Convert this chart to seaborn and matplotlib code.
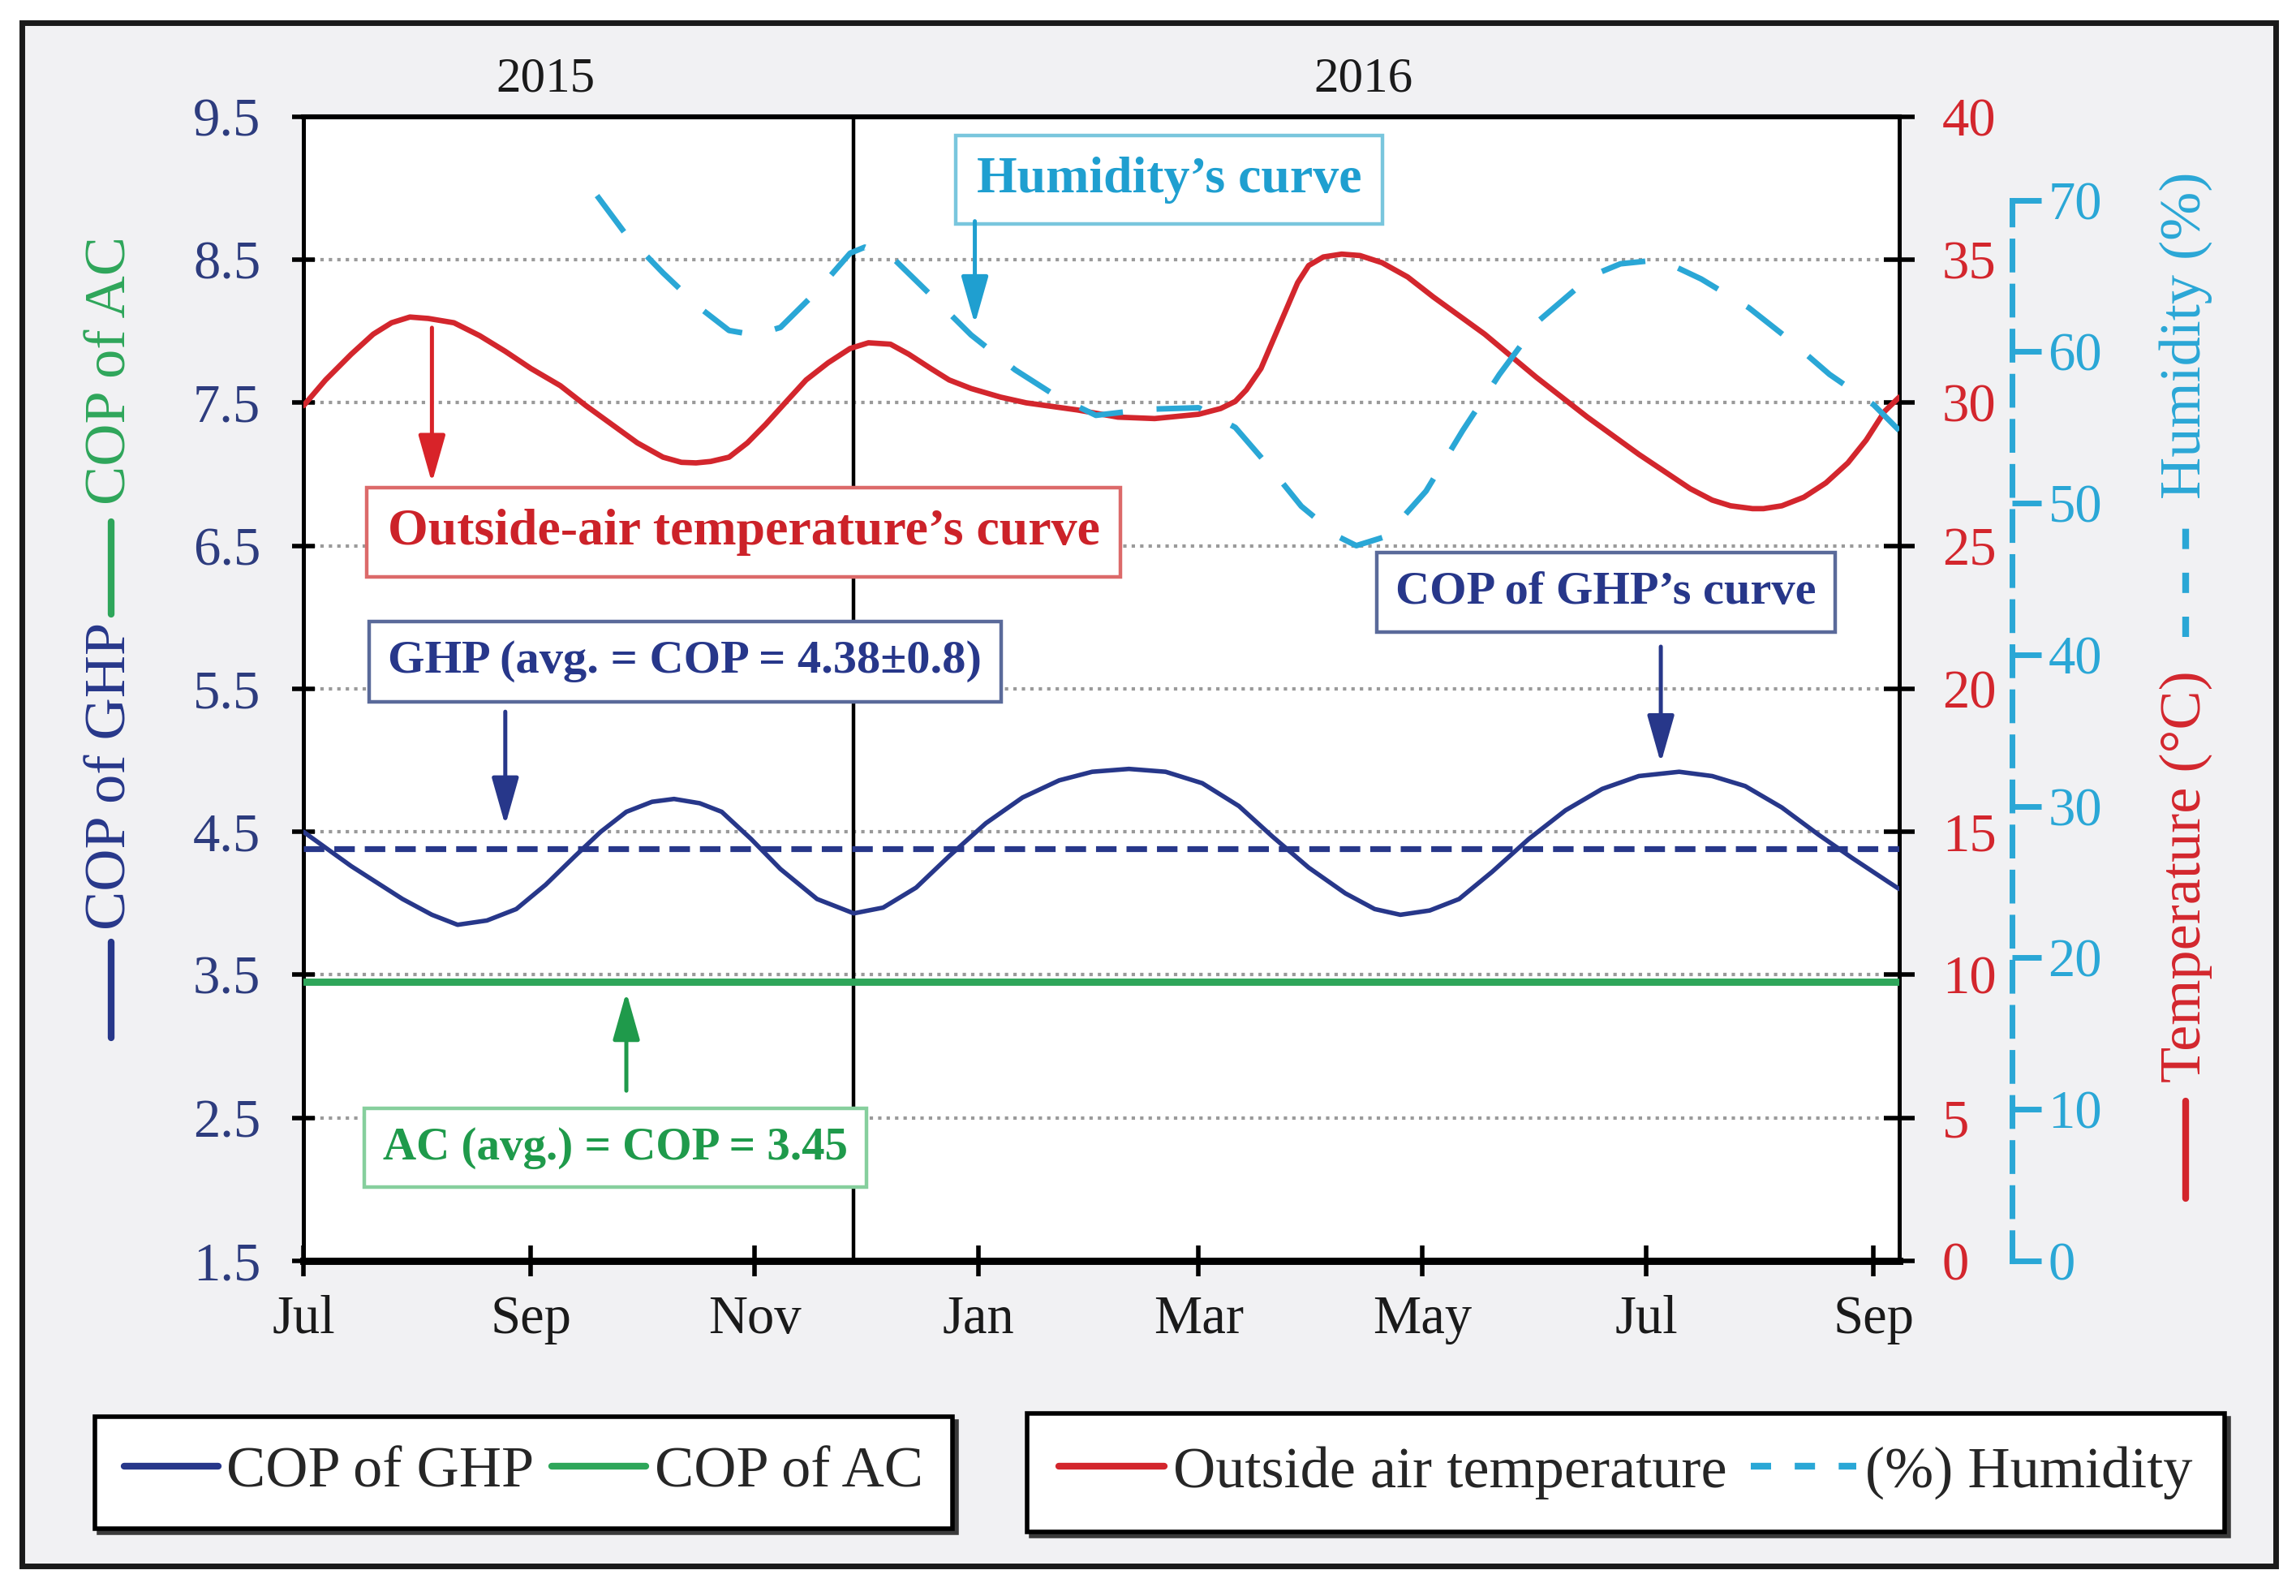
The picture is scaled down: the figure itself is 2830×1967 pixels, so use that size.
import numpy as np
import pandas as pd
import matplotlib
matplotlib.use("Agg")
import matplotlib.pyplot as plt
import matplotlib.dates as mdates
import matplotlib.transforms as mtransforms
from matplotlib.lines import Line2D
from matplotlib.patches import Rectangle
import seaborn as sns

# ---------------- data ----------------
temp_dates = ["2015-07-01", "2015-07-07", "2015-07-14", "2015-07-20", "2015-07-25",
              "2015-07-30", "2015-08-04", "2015-08-11", "2015-08-18", "2015-08-25",
              "2015-09-01", "2015-09-09", "2015-09-16", "2015-09-23", "2015-09-30",
              "2015-10-07", "2015-10-12", "2015-10-16", "2015-10-20", "2015-10-25",
              "2015-10-30", "2015-11-04", "2015-11-10", "2015-11-15", "2015-11-21",
              "2015-11-27", "2015-12-02", "2015-12-08", "2015-12-13", "2015-12-19",
              "2015-12-24", "2015-12-30", "2016-01-07", "2016-01-14", "2016-01-28",
              "2016-02-08", "2016-02-18", "2016-03-01", "2016-03-07", "2016-03-11",
              "2016-03-14", "2016-03-18", "2016-03-21", "2016-03-24", "2016-03-28",
              "2016-03-31", "2016-04-04", "2016-04-09", "2016-04-14", "2016-04-20",
              "2016-04-27", "2016-05-04", "2016-05-11", "2016-05-18", "2016-05-25",
              "2016-06-01", "2016-06-08", "2016-06-15", "2016-06-22", "2016-06-29",
              "2016-07-06", "2016-07-13", "2016-07-19", "2016-07-24", "2016-07-30",
              "2016-08-02", "2016-08-07", "2016-08-13", "2016-08-19", "2016-08-25",
              "2016-08-30", "2016-09-04", "2016-09-08"]
temp_values = [29.9, 30.8, 31.7, 32.4, 32.8,
               33.0, 32.95, 32.8, 32.35, 31.8,
               31.2, 30.6, 29.9, 29.25, 28.6,
               28.1, 27.92, 27.9, 27.95, 28.1,
               28.6, 29.25, 30.1, 30.8, 31.4,
               31.9, 32.1, 32.05, 31.7, 31.2,
               30.8, 30.5, 30.2, 30.0, 29.75,
               29.5, 29.45, 29.6, 29.8, 30.05,
               30.45, 31.2, 32.1, 33.0, 34.2,
               34.8, 35.1, 35.2, 35.15, 34.9,
               34.4, 33.7, 33.05, 32.4, 31.65,
               30.9, 30.2, 29.5, 28.85, 28.2,
               27.6, 27.0, 26.6, 26.4, 26.3,
               26.3, 26.4, 26.7, 27.2, 27.9,
               28.7, 29.7, 30.2]

hum_dates = ["2015-09-19", "2015-09-27", "2015-10-07", "2015-10-17", "2015-10-25",
             "2015-11-01", "2015-11-08", "2015-11-18", "2015-11-27", "2015-12-01",
             "2015-12-09", "2015-12-20", "2015-12-30", "2016-01-11", "2016-01-22",
             "2016-02-02", "2016-02-16", "2016-03-01", "2016-03-11", "2016-03-21",
             "2016-03-29", "2016-04-08", "2016-04-13", "2016-04-21", "2016-05-02",
             "2016-05-12", "2016-05-22", "2016-06-02", "2016-06-16", "2016-06-24",
             "2016-07-02", "2016-07-09", "2016-07-16", "2016-07-29", "2016-08-09",
             "2016-08-20", "2016-09-01", "2016-09-08"]
hum_values = [70.3, 67.7, 65.2, 62.9, 61.4,
              61.1, 61.6, 64.0, 66.5, 66.9,
              66.1, 63.5, 61.1, 58.8, 57.1,
              55.8, 56.2, 56.3, 55.0, 52.2,
              49.8, 47.8, 47.2, 47.8, 50.8,
              54.8, 58.5, 62.1, 65.0, 65.8,
              66.0, 65.6, 64.8, 62.9, 60.8,
              58.5, 56.5, 54.8]

ghp_dates = ["2015-07-01", "2015-07-14", "2015-07-28", "2015-08-05", "2015-08-12",
             "2015-08-20", "2015-08-28", "2015-09-05", "2015-09-13", "2015-09-20",
             "2015-09-27", "2015-10-04", "2015-10-10", "2015-10-17", "2015-10-23",
             "2015-10-31", "2015-11-08", "2015-11-18", "2015-11-28", "2015-12-06",
             "2015-12-15", "2015-12-24", "2016-01-03", "2016-01-13", "2016-01-23",
             "2016-02-01", "2016-02-11", "2016-02-21", "2016-03-02", "2016-03-12",
             "2016-03-21", "2016-03-31", "2016-04-10", "2016-04-18", "2016-04-25",
             "2016-05-03", "2016-05-11", "2016-05-20", "2016-05-30", "2016-06-09",
             "2016-06-19", "2016-06-29", "2016-07-10", "2016-07-19", "2016-07-28",
             "2016-08-07", "2016-08-17", "2016-08-26", "2016-09-05", "2016-09-08"]
ghp_values = [4.50, 4.26, 4.03, 3.92, 3.85,
              3.88, 3.96, 4.13, 4.33, 4.50,
              4.64, 4.71, 4.73, 4.70, 4.64,
              4.45, 4.24, 4.03, 3.93, 3.97,
              4.11, 4.33, 4.56, 4.74, 4.86,
              4.92, 4.94, 4.92, 4.84, 4.68,
              4.47, 4.25, 4.07, 3.96, 3.92,
              3.95, 4.03, 4.22, 4.45, 4.65,
              4.80, 4.89, 4.92, 4.89, 4.82,
              4.67, 4.48, 4.32, 4.15, 4.10]

ghp_avg = 4.38
ac_avg = 3.45
year_split_date = "2015-11-28"
year_labels = ["2015", "2016"]
year_label_dates = ["2015-09-05", "2016-04-15"]

month_tick_dates = ["2015-07-01", "2015-09-01", "2015-11-01", "2016-01-01",
                    "2016-03-01", "2016-05-01", "2016-07-01", "2016-09-01"]
month_labels = ["Jul", "Sep", "Nov", "Jan", "Mar", "May", "Jul", "Sep"]
cop_ticks = [1.5, 2.5, 3.5, 4.5, 5.5, 6.5, 7.5, 8.5, 9.5]
temp_ticks = [0, 5, 10, 15, 20, 25, 30, 35, 40]
hum_ticks = [0, 10, 20, 30, 40, 50, 60, 70]

# ---------------- style ----------------
NAVY = "#27378a"
NAVY_T = "#2d3c7e"
RED = "#d3262d"
CYAN = "#2aa7d6"
GREEN = "#2ea65a"

sns.set_theme(style="ticks")
plt.rcParams["font.family"] = ["Liberation Serif", "DejaVu Serif"]
plt.rcParams["axes.unicode_minus"] = False

fig = plt.figure(figsize=(14.15, 9.835), dpi=200)
fig.patch.set_facecolor("white")
fig.add_artist(Rectangle((0.0095, 0.0188), 0.9817, 0.967, transform=fig.transFigure,
                         facecolor="#f1f1f3", edgecolor="#1a1a1a", lw=2.5, zorder=-10))

ax = fig.add_axes([0.1322, 0.2100, 0.6950, 0.7168])
ax.set_facecolor("white")
ax_t = ax.twinx()
ax_h = ax.twinx()

t_dates = pd.to_datetime(temp_dates)
h_dates = pd.to_datetime(hum_dates)
g_dates = pd.to_datetime(ghp_dates)

# COP of GHP
sns.lineplot(x=g_dates, y=ghp_values, ax=ax, color=NAVY, lw=2.0, zorder=4)
ax.axhline(ghp_avg, color=NAVY, lw=2.6, ls=(0, (3.5, 1.7)), zorder=3)
ax.axhline(ac_avg, color=GREEN, lw=3.2, zorder=3)
ax.axvline(pd.Timestamp(year_split_date), color="black", lw=1.6, zorder=2)

# temperature + humidity
sns.lineplot(x=t_dates, y=temp_values, ax=ax_t, color=RED, lw=2.4, zorder=4)
sns.lineplot(x=h_dates, y=hum_values, ax=ax_h, color=CYAN, lw=2.5,
             linestyle=(0, (8, 6)), zorder=4)

for a in (ax, ax_t, ax_h):
    a.set_xlabel("")
    a.set_ylabel("")

# ---------------- axes ----------------
ax.set_xlim(pd.Timestamp("2015-07-01"), pd.Timestamp("2016-09-08"))
ax.set_ylim(1.5, 9.5)
ax.set_yticks(cop_ticks)
ax.set_yticklabels([f"{v:.1f}" for v in cop_ticks])
ax.set_xticks(pd.to_datetime(month_tick_dates))
ax.set_xticklabels(month_labels)
ax.grid(axis="y", ls=(0, (1, 1.5)), color="#9a9a9a", lw=1.5)
ax.grid(axis="x", visible=False)
ax.tick_params(axis="y", direction="inout", length=10, width=2, pad=14,
               labelsize=24, labelcolor=NAVY_T, color="black", left=True, right=False)
ax.tick_params(axis="x", direction="inout", length=14, width=2, pad=8,
               labelsize=24, labelcolor="#1a1a1a", color="black")
for side, lw in (("top", 2.2), ("bottom", 3.2), ("left", 1.8), ("right", 1.8)):
    ax.spines[side].set_visible(True)
    ax.spines[side].set_linewidth(lw)
    ax.spines[side].set_color("black")

ax_t.set_ylim(0, 40)
ax_t.set_yticks(temp_ticks)
ax_t.set_yticklabels([str(v) for v in temp_ticks])
ax_t.tick_params(axis="y", direction="inout", length=14, width=2, pad=12,
                 labelsize=24, labelcolor=RED, color="black", right=True, left=False)
for s in ax_t.spines.values():
    s.set_visible(False)

ax_h.set_ylim(0, 75.5)
ax_h.set_yticks(hum_ticks)
ax_h.set_yticklabels([str(v) for v in hum_ticks])
for s in ("top", "bottom", "left"):
    ax_h.spines[s].set_visible(False)
sp = ax_h.spines["right"]
sp.set_visible(True)
sp.set_position(("axes", 1.0707))
sp.set_bounds(0, 70)
sp.set_color(CYAN)
sp.set_linewidth(2.5)
sp.set_linestyle((0, (5, 3)))
ax_h.tick_params(axis="y", direction="out", length=13, width=2.5, pad=3,
                 labelsize=24, labelcolor=CYAN, color=CYAN, right=True, left=False)

# year labels
trans = mtransforms.blended_transform_factory(ax.transData, ax.transAxes)
for lab, d in zip(year_labels, year_label_dates):
    ax.text(mdates.date2num(pd.Timestamp(d)), 1.033, lab, transform=trans,
            ha="center", va="center", fontsize=22, color="#1a1a1a")

# ---------------- annotations ----------------
def note(d, y, s, color, ec, fs):
    ax.text(mdates.date2num(pd.Timestamp(d)), y, s, ha="center", va="center",
            fontsize=fs, fontweight="bold", color=color, zorder=8,
            bbox=dict(boxstyle="square,pad=0.4", fc="white", ec=ec, lw=1.6))

def arrow(d, y0, y1, color):
    x = mdates.date2num(pd.Timestamp(d))
    ax.annotate("", xy=(x, y1), xytext=(x, y0), zorder=8,
                arrowprops=dict(arrowstyle="-|>,head_length=0.6,head_width=0.17",
                                color=color, lw=1.8, shrinkA=0, shrinkB=0,
                                mutation_scale=30))

note("2016-02-22", 9.06, "Humidity\u2019s curve", "#1f9fd0", "#79c6dd", 23)
arrow("2015-12-31", 8.77, 8.05, "#1f9fd0")
note("2015-10-29", 6.595, "Outside-air temperature\u2019s curve", "#cc2229", "#dc6a6a", 23)
arrow("2015-08-05", 8.025, 6.94, "#d82329")
note("2015-10-13", 5.69, "GHP (avg. = COP = 4.38\u00b10.8)", NAVY, "#5a6a9a", 21)
arrow("2015-08-25", 5.34, 4.545, NAVY)
note("2016-06-20", 6.175, "COP of GHP\u2019s curve", NAVY, "#5a6a9a", 21)
arrow("2016-07-05", 5.795, 4.98, NAVY)
note("2015-09-24", 2.29, "AC (avg.) = COP = 3.45", "#1f9a4b", "#86cf9d", 20.5)
arrow("2015-09-27", 2.69, 3.38, "#1f9a4b")

# ---------------- composite axis labels ----------------
xl = 0.0484
fig.text(xl, 0.768, "COP of AC", rotation=90, ha="center", va="center",
         fontsize=26, color=GREEN)
fig.add_artist(Line2D([xl, xl], [0.615, 0.673], transform=fig.transFigure,
                      color=GREEN, lw=3))
fig.text(xl, 0.514, "COP of GHP", rotation=90, ha="center", va="center",
         fontsize=26, color=NAVY)
fig.add_artist(Line2D([xl, xl], [0.350, 0.410], transform=fig.transFigure,
                      color=NAVY, lw=3))

xr = 0.952
fig.text(xr, 0.790, "Humidity (%)", rotation=90, ha="center", va="center",
         fontsize=26, color=CYAN)
fig.add_artist(Line2D([xr, xr], [0.601, 0.680], transform=fig.transFigure,
                      color=CYAN, lw=3, ls=(0, (3, 3.5))))
fig.text(xr, 0.451, "Temperature (\u00b0C)", rotation=90, ha="center", va="center",
         fontsize=26, color=RED)
fig.add_artist(Line2D([xr, xr], [0.249, 0.310], transform=fig.transFigure,
                      color=RED, lw=3))

# ---------------- legends ----------------
leg_kw = dict(loc="center", bbox_transform=fig.transFigure, ncol=2, fontsize=26,
              frameon=True, fancybox=False, edgecolor="black", facecolor="white",
              framealpha=1, handlelength=1.6, handletextpad=0.15, columnspacing=0.3,
              borderpad=0.5, shadow={"color": "#3a3a3a", "alpha": 1})
h1 = [Line2D([], [], color=NAVY, lw=3), Line2D([], [], color=GREEN, lw=3)]
leg1 = fig.legend(h1, ["COP of GHP", "COP of AC"], bbox_to_anchor=(0.228, 0.0773), **leg_kw)
leg1.get_frame().set_linewidth(2)
leg_kw2 = dict(leg_kw, handlelength=1.8, columnspacing=0.4, borderpad=0.55)
h2 = [Line2D([], [], color=RED, lw=3), Line2D([], [], color=CYAN, lw=3, ls=(0, (3, 3.5)))]
leg2 = fig.legend(h2, ["Outside air temperature", "(%) Humidity"],
                  bbox_to_anchor=(0.708, 0.0773), **leg_kw2)
leg2.get_frame().set_linewidth(2)

fig.savefig("out.png", dpi=200)
